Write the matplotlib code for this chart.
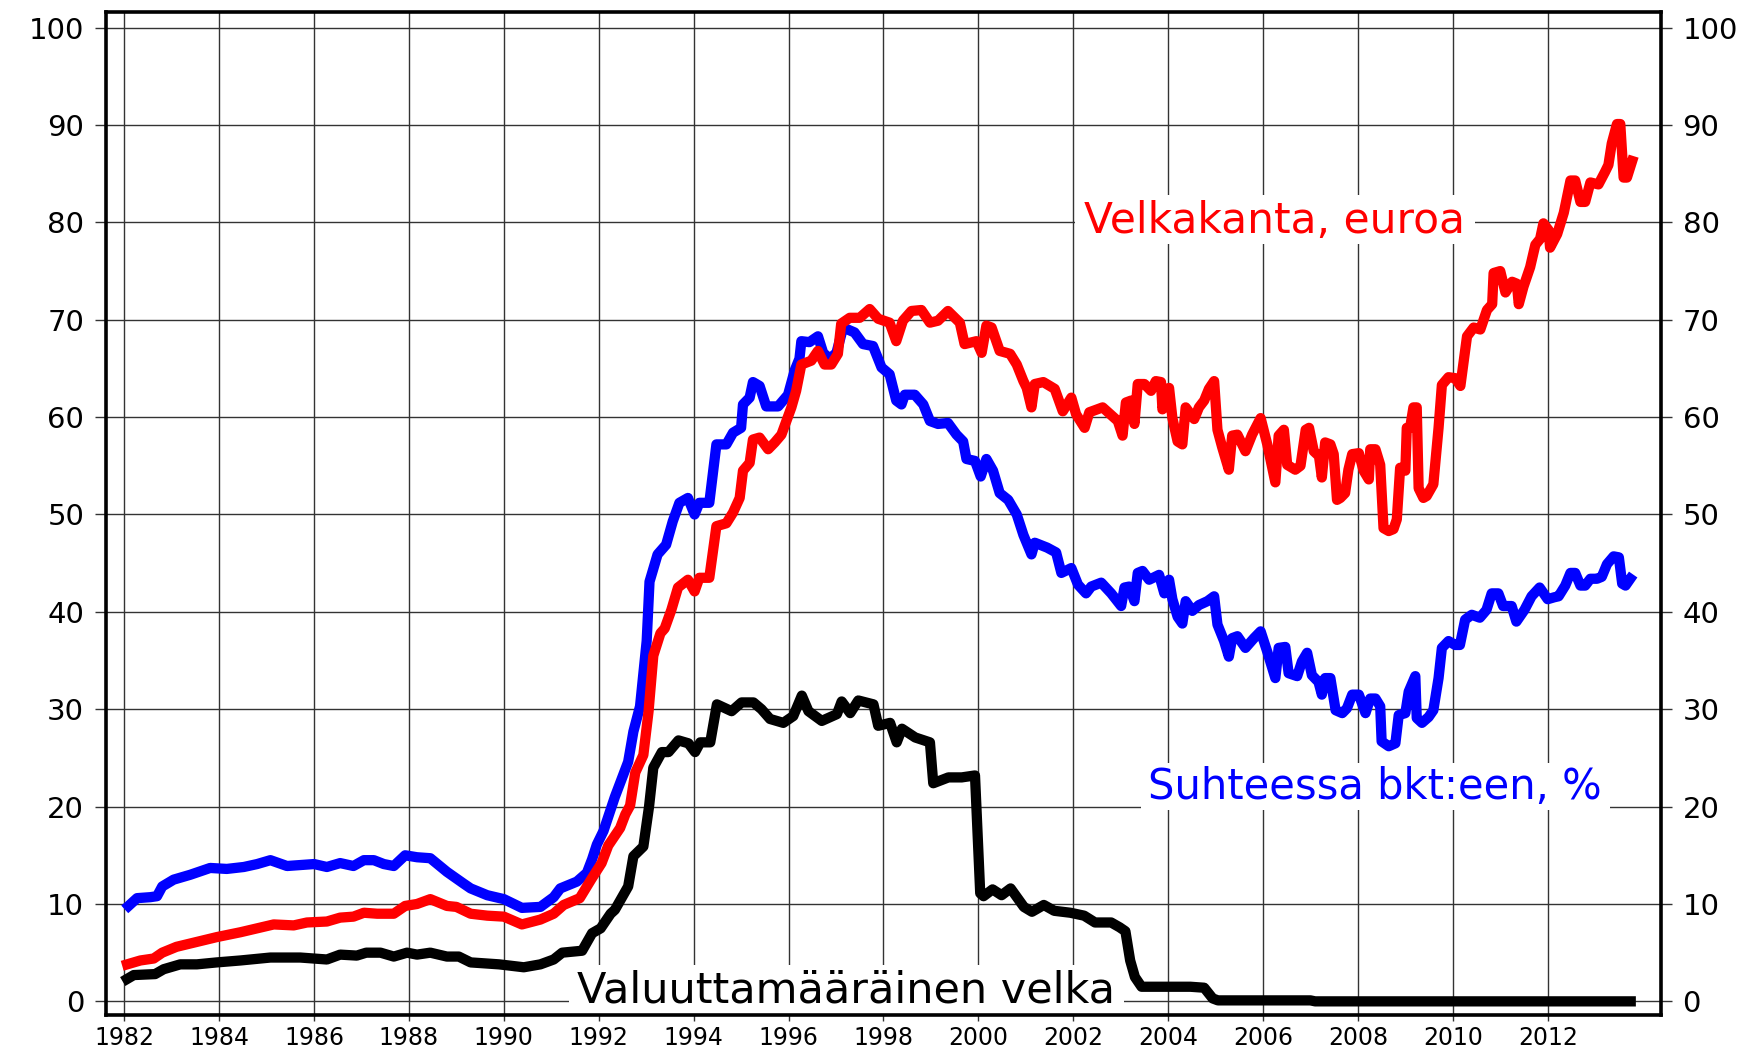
import matplotlib
matplotlib.use("Agg")
import matplotlib.pyplot as plt
from matplotlib.patches import Rectangle

plt.rcParams['font.family'] = ['DejaVu Sans']

# ---------------- data ----------------
black_years = [1982.06, 1982.2, 1982.65, 1982.83, 1983.18, 1983.53, 1983.95, 1984.45, 1985.08, 1985.71,
               1986.27, 1986.55, 1986.9, 1987.1, 1987.4, 1987.68, 1987.96, 1988.17, 1988.45, 1988.8,
               1989.05, 1989.3, 1989.9, 1990.42, 1990.77, 1991.05, 1991.23, 1991.65, 1991.86, 1992.04,
               1992.25, 1992.34, 1992.62, 1992.73, 1992.94, 1993.06, 1993.15, 1993.33, 1993.47, 1993.68,
               1993.89, 1994.03, 1994.14, 1994.35, 1994.49, 1994.8, 1995.01, 1995.26, 1995.43, 1995.61,
               1995.89, 1996.1, 1996.28, 1996.42, 1996.7, 1997.02, 1997.12, 1997.3, 1997.47, 1997.79,
               1997.89, 1998.14, 1998.28, 1998.39, 1998.67, 1998.98, 1999.05, 1999.37, 1999.65, 1999.93,
               2000.04, 2000.11, 2000.3, 2000.49, 2000.68, 2000.96, 2001.13, 2001.38, 2001.6, 2001.94,
               2002.23, 2002.46, 2002.8, 2002.98, 2003.1, 2003.2, 2003.3, 2003.44, 2003.9, 2004.47,
               2004.76, 2004.94, 2005.05, 2007.0, 2007.1, 2013.75]
black_vals = [2.3, 2.7, 2.8, 3.3, 3.8, 3.8, 4.0, 4.2, 4.5, 4.5,
              4.3, 4.8, 4.7, 5.0, 5.0, 4.6, 5.0, 4.8, 5.0, 4.6,
              4.6, 4.0, 3.8, 3.5, 3.8, 4.3, 5.0, 5.2, 7.0, 7.5,
              9.0, 9.4, 11.8, 14.9, 15.9, 20.0, 24.0, 25.6, 25.6, 26.8,
              26.5, 25.6, 26.6, 26.6, 30.5, 29.8, 30.7, 30.7, 30.0, 29.0,
              28.6, 29.3, 31.4, 29.8, 28.8, 29.5, 30.8, 29.6, 30.9, 30.5,
              28.3, 28.6, 26.6, 28.0, 27.1, 26.6, 22.4, 23.0, 23.0, 23.2,
              11.1, 10.8, 11.5, 10.9, 11.6, 9.7, 9.2, 9.9, 9.3, 9.1,
              8.8, 8.1, 8.1, 7.6, 7.2, 4.2, 2.5, 1.5, 1.5, 1.5,
              1.4, 0.3, 0.1, 0.1, 0.0, 0.0]

red_years = [1982.06, 1982.34, 1982.62, 1982.8, 1983.1, 1983.53, 1983.95, 1984.45, 1984.8, 1985.15,
             1985.57, 1985.85, 1986.27, 1986.55, 1986.83, 1987.05, 1987.33, 1987.68, 1987.92, 1988.17,
             1988.45, 1988.8, 1989.0, 1989.3, 1989.65, 1990.0, 1990.38, 1990.77, 1991.05, 1991.26,
             1991.6, 1991.85, 1992.06, 1992.2, 1992.45, 1992.56, 1992.66, 1992.77, 1992.94, 1993.05,
             1993.15, 1993.3, 1993.39, 1993.53, 1993.67, 1993.88, 1994.02, 1994.12, 1994.33, 1994.48,
             1994.69, 1994.83, 1994.97, 1995.04, 1995.18, 1995.25, 1995.39, 1995.57, 1995.71, 1995.85,
             1996.06, 1996.16, 1996.27, 1996.48, 1996.62, 1996.76, 1996.9, 1997.04, 1997.11, 1997.29,
             1997.5, 1997.71, 1997.89, 1998.13, 1998.27, 1998.41, 1998.59, 1998.8, 1998.98, 1999.15,
             1999.36, 1999.61, 1999.71, 1999.96, 2000.07, 2000.17, 2000.28, 2000.45, 2000.67, 2000.81,
             2000.95, 2001.02, 2001.12, 2001.19, 2001.37, 2001.61, 2001.78, 2001.96, 2002.06, 2002.24,
             2002.34, 2002.62, 2002.94, 2003.04, 2003.11, 2003.22, 2003.29, 2003.36, 2003.5, 2003.64,
             2003.74, 2003.85, 2003.88, 2004.02, 2004.09, 2004.2, 2004.3, 2004.37, 2004.55, 2004.65,
             2004.76, 2004.86, 2004.97, 2005.04, 2005.14, 2005.28, 2005.35, 2005.46, 2005.63, 2005.77,
             2005.95, 2006.09, 2006.26, 2006.33, 2006.44, 2006.51, 2006.68, 2006.79, 2006.9, 2006.97,
             2007.07, 2007.18, 2007.24, 2007.31, 2007.42, 2007.49, 2007.56, 2007.63, 2007.73, 2007.8,
             2007.88, 2008.02, 2008.12, 2008.23, 2008.26, 2008.37, 2008.47, 2008.54, 2008.65, 2008.75,
             2008.82, 2008.89, 2009.0, 2009.03, 2009.1, 2009.17, 2009.24, 2009.28, 2009.38, 2009.45,
             2009.59, 2009.7, 2009.77, 2009.91, 2010.05, 2010.16, 2010.3, 2010.44, 2010.58, 2010.72,
             2010.83, 2010.86, 2011.0, 2011.11, 2011.25, 2011.35, 2011.39, 2011.49, 2011.63, 2011.74,
             2011.84, 2011.91, 2012.02, 2012.05, 2012.2, 2012.34, 2012.48, 2012.58, 2012.69, 2012.79,
             2012.9, 2013.07, 2013.21, 2013.28, 2013.35, 2013.46, 2013.53, 2013.6, 2013.67, 2013.78]
red_vals = [3.8, 4.2, 4.4, 5.0, 5.6, 6.1, 6.6, 7.1, 7.5, 7.9,
            7.8, 8.1, 8.2, 8.6, 8.7, 9.1, 9.0, 9.0, 9.8, 10.0,
            10.5, 9.8, 9.7, 9.0, 8.8, 8.7, 7.9, 8.4, 9.0, 9.9,
            10.6, 12.6, 14.2, 16.0, 17.8, 19.2, 20.1, 23.5, 25.3, 29.8,
            35.5, 37.8, 38.3, 40.2, 42.5, 43.3, 42.1, 43.5, 43.5, 48.8,
            49.1, 50.2, 51.7, 54.5, 55.3, 57.7, 57.9, 56.7, 57.4, 58.2,
            61.0, 62.7, 65.4, 65.8, 66.8, 65.4, 65.4, 66.5, 69.6, 70.2,
            70.2, 71.1, 70.1, 69.7, 67.8, 69.9, 70.9, 71.0, 69.7, 69.9,
            70.9, 69.7, 67.5, 67.8, 66.6, 69.4, 69.2, 66.8, 66.5, 65.4,
            63.7, 63.0, 61.0, 63.4, 63.6, 62.9, 60.6, 62.0, 60.3, 58.9,
            60.5, 61.0, 59.6, 58.1, 61.5, 61.7, 59.3, 63.4, 63.4, 62.7,
            63.7, 63.6, 60.8, 63.0, 59.9, 57.5, 57.2, 61.0, 59.8, 61.0,
            61.7, 62.9, 63.7, 58.7, 56.9, 54.6, 58.1, 58.2, 56.5, 58.2,
            59.9, 57.2, 53.3, 58.1, 58.7, 55.1, 54.6, 55.0, 58.7, 58.9,
            56.5, 56.0, 53.8, 57.4, 57.2, 56.2, 51.5, 51.7, 52.2, 54.6,
            56.2, 56.3, 54.5, 53.6, 56.7, 56.7, 55.1, 48.6, 48.3, 48.5,
            49.5, 54.8, 54.5, 58.9, 58.9, 61.0, 61.0, 52.7, 51.7, 51.9,
            53.1, 58.9, 63.3, 64.1, 64.0, 63.2, 68.3, 69.2, 69.0, 71.0,
            71.6, 74.8, 75.0, 72.8, 73.9, 73.7, 71.6, 73.4, 75.4, 77.7,
            78.3, 79.9, 79.2, 77.4, 78.8, 81.0, 84.3, 84.3, 82.1, 82.1,
            84.1, 83.9, 85.2, 85.9, 88.1, 90.1, 90.1, 84.6, 84.6, 86.3]

blue_years = [1982.09, 1982.27, 1982.55, 1982.69, 1982.8, 1983.04, 1983.39, 1983.81, 1984.16, 1984.52,
              1984.8, 1985.08, 1985.43, 1985.71, 1986.0, 1986.27, 1986.55, 1986.83, 1987.05, 1987.26,
              1987.47, 1987.68, 1987.92, 1988.17, 1988.45, 1988.8, 1989.15, 1989.3, 1989.65, 1990.0,
              1990.38, 1990.77, 1991.05, 1991.19, 1991.54, 1991.75, 1991.86, 1991.96, 1992.1, 1992.34,
              1992.62, 1992.73, 1992.87, 1993.01, 1993.07, 1993.24, 1993.42, 1993.56, 1993.7, 1993.88,
              1994.02, 1994.12, 1994.33, 1994.48, 1994.69, 1994.83, 1995.0, 1995.04, 1995.18, 1995.25,
              1995.39, 1995.53, 1995.78, 1995.99, 1996.13, 1996.23, 1996.27, 1996.44, 1996.62, 1996.73,
              1996.87, 1997.01, 1997.15, 1997.39, 1997.57, 1997.78, 1997.96, 1998.13, 1998.27, 1998.38,
              1998.45, 1998.66, 1998.84, 1998.98, 1999.15, 1999.36, 1999.54, 1999.68, 1999.75, 1999.93,
              2000.05, 2000.17, 2000.31, 2000.45, 2000.63, 2000.81, 2000.95, 2001.12, 2001.19, 2001.45,
              2001.64, 2001.75, 2001.96, 2002.1, 2002.27, 2002.38, 2002.59, 2002.8, 2003.01, 2003.08,
              2003.18, 2003.29, 2003.36, 2003.46, 2003.6, 2003.81, 2003.92, 2004.02, 2004.09, 2004.2,
              2004.3, 2004.37, 2004.51, 2004.65, 2004.83, 2004.97, 2005.04, 2005.18, 2005.28, 2005.35,
              2005.46, 2005.63, 2005.81, 2005.95, 2006.09, 2006.26, 2006.33, 2006.47, 2006.54, 2006.72,
              2006.82, 2006.93, 2007.03, 2007.17, 2007.24, 2007.31, 2007.42, 2007.53, 2007.67, 2007.77,
              2007.88, 2008.02, 2008.16, 2008.26, 2008.37, 2008.47, 2008.5, 2008.65, 2008.79, 2008.86,
              2009.0, 2009.07, 2009.21, 2009.24, 2009.35, 2009.49, 2009.59, 2009.7, 2009.77, 2009.91,
              2010.05, 2010.15, 2010.26, 2010.4, 2010.57, 2010.71, 2010.82, 2010.96, 2011.06, 2011.24,
              2011.34, 2011.51, 2011.66, 2011.83, 2012.0, 2012.14, 2012.23, 2012.37, 2012.48, 2012.58,
              2012.69, 2012.79, 2012.9, 2013.04, 2013.14, 2013.25, 2013.39, 2013.5, 2013.57, 2013.64,
              2013.74]
blue_vals = [9.8, 10.6, 10.7, 10.8, 11.8, 12.5, 13.0, 13.7, 13.6, 13.8,
             14.1, 14.5, 13.9, 14.0, 14.1, 13.8, 14.2, 13.9, 14.5, 14.5,
             14.1, 13.9, 15.0, 14.8, 14.7, 13.3, 12.1, 11.6, 10.9, 10.5,
             9.6, 9.7, 10.7, 11.6, 12.3, 13.2, 14.6, 16.1, 17.5, 21.0,
             24.6, 27.7, 30.3, 37.0, 43.1, 45.9, 46.9, 49.3, 51.2, 51.7,
             50.0, 51.2, 51.2, 57.2, 57.2, 58.4, 58.9, 61.3, 62.0, 63.6,
             63.2, 61.1, 61.1, 62.3, 64.8, 66.0, 67.8, 67.7, 68.3, 66.6,
             66.0, 66.6, 69.2, 68.7, 67.5, 67.3, 65.1, 64.4, 61.7, 61.3,
             62.3, 62.3, 61.3, 59.6, 59.3, 59.4, 58.2, 57.5, 55.7, 55.5,
             53.9, 55.7, 54.5, 52.2, 51.5, 50.0, 47.9, 45.9, 47.1, 46.6,
             46.1, 44.0, 44.5, 42.8, 41.9, 42.6, 43.0, 41.9, 40.6, 42.5,
             42.6, 41.1, 44.0, 44.2, 43.3, 43.8, 41.9, 43.3, 41.3, 39.5,
             38.8, 41.1, 40.1, 40.7, 41.1, 41.6, 38.7, 37.0, 35.4, 37.3,
             37.5, 36.3, 37.3, 38.0, 35.9, 33.2, 36.3, 36.4, 33.7, 33.4,
             34.9, 35.8, 33.5, 32.8, 31.5, 33.2, 33.2, 29.9, 29.6, 30.1,
             31.5, 31.5, 29.6, 31.1, 31.1, 30.3, 26.7, 26.2, 26.5, 29.4,
             29.6, 31.8, 33.4, 29.1, 28.6, 29.2, 29.9, 33.2, 36.3, 37.0,
             36.6, 36.6, 39.2, 39.7, 39.4, 40.2, 41.9, 41.9, 40.6, 40.6,
             39.0, 40.2, 41.6, 42.5, 41.3, 41.5, 41.6, 42.7, 44.0, 44.0,
             42.7, 42.7, 43.4, 43.4, 43.6, 44.9, 45.7, 45.6, 42.9, 42.7,
             43.4]

x_ticks = list(range(1982, 2013, 2))
y_ticks = list(range(0, 101, 10))

label_red = "Velkakanta, euroa"
label_blue = "Suhteessa bkt:een, %"
label_black = "Valuuttamääräinen velka"

# ---------------- figure ----------------
fig = plt.figure(figsize=(17.6, 10.48), dpi=100)
ax = fig.add_axes([0.0601, 0.0315, 0.8837, 0.957])
ax.set_xlim(1981.61, 2014.39)
ax.set_ylim(-1.4, 101.6)

ax.set_xticks(x_ticks)
ax.set_xticklabels([str(t) for t in x_ticks])
ax.set_yticks(y_ticks)
ax.set_yticklabels([str(t) for t in y_ticks])

ax.grid(True, color='#333333', linewidth=1.0, zorder=1)
ax.set_axisbelow(True)

ax.tick_params(axis='y', which='major', direction='out', length=8, width=1.0,
               color='#333333', left=True, right=True, labelleft=True, labelright=True,
               labelsize=21, pad=7.5, labelcolor='black')
ax.tick_params(axis='x', which='major', direction='out', length=4, width=1.0,
               color='#333333', labelsize=17, pad=4, labelcolor='black')

for s in ax.spines.values():
    s.set_linewidth(2.6)
    s.set_color('black')
    s.set_zorder(10)

# white label backgrounds (hide gridlines behind the texts)
ax.add_patch(Rectangle((2002.03, 77.8), 8.44, 5.0, facecolor='white', edgecolor='none', zorder=2))
ax.add_patch(Rectangle((2003.43, 19.7), 9.88, 4.8, facecolor='white', edgecolor='none', zorder=2))
ax.add_patch(Rectangle((1991.37, -1.4), 11.70, 5.1, facecolor='white', edgecolor='none', zorder=2))

lw = 7.4
ax.plot(blue_years, blue_vals, color='#0000ff', lw=lw, solid_joinstyle='round', zorder=3)
ax.plot(red_years, red_vals, color='#ff0000', lw=lw, solid_joinstyle='round', zorder=4)
ax.plot(black_years, black_vals, color='black', lw=lw, solid_joinstyle='round', zorder=5)

ax.text(2006.24, 78.9, label_red, color='#ff0000', fontsize=30.5, ha='center', va='baseline', zorder=6)
ax.text(2008.36, 20.8, label_blue, color='#0000ff', fontsize=30, ha='center', va='baseline', zorder=6)
ax.text(1997.22, -0.1, label_black, color='black', fontsize=31, ha='center', va='baseline', zorder=6)

fig.savefig('out.png', dpi=100)
